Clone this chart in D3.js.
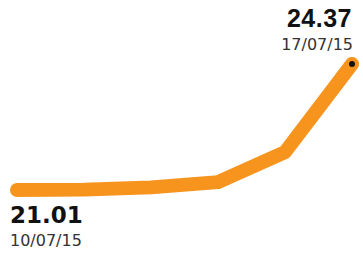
<!DOCTYPE html>
<html>
<head>
<meta charset="utf-8">
<script src="https://cdn.jsdelivr.net/npm/d3@7"></script>
<style>
  html, body { margin: 0; padding: 0; background: #fff; }
  svg { display: block; }
</style>
</head>
<body>
<div id="chart"></div>
<script>
// trading days shown on the sparkline
const dates = ['10/07/15', '13/07/15', '14/07/15', '15/07/15', '16/07/15', '17/07/15'];
const prices = [21.01, 21.02, 21.08, 21.22, 22.02, 24.37];

const width = 363;
const height = 254;

const svg = d3.select('#chart')
  .append('svg')
  .attr('width', width)
  .attr('height', height);

const x = d3.scalePoint()
  .domain(dates)
  .range([17, 352]);

const y = d3.scaleLinear()
  .domain([d3.min(prices), d3.max(prices)])
  .range([190, 64]);

const data = dates.map((d, i) => ({ date: d, value: prices[i] }));

const line = d3.line()
  .x(d => x(d.date))
  .y(d => y(d.value));

svg.append('path')
  .datum(data)
  .attr('d', line)
  .attr('fill', 'none')
  .attr('stroke', '#f7941d')
  .attr('stroke-width', 14)
  .attr('stroke-linecap', 'round')
  .attr('stroke-linejoin', 'round');

const first = data[0];
const last = data[data.length - 1];

// end marker
svg.append('circle')
  .attr('cx', x(last.date))
  .attr('cy', y(last.value))
  .attr('r', 3)
  .attr('fill', '#111');

// first value + date, below the line start
svg.append('text')
  .attr('x', x(first.date) - 7)
  .attr('y', y(first.value) + 33)
  .attr('font-family', 'DejaVu Sans')
  .attr('font-weight', 700)
  .attr('font-size', 23)
  .attr('fill', '#111')
  .text(first.value.toFixed(2));

svg.append('text')
  .attr('x', x(first.date) - 7)
  .attr('y', y(first.value) + 56)
  .attr('font-family', 'DejaVu Sans')
  .attr('font-size', 16)
  .attr('fill', '#333')
  .text(first.date);

// last value + date, above the line end
svg.append('text')
  .attr('x', x(last.date))
  .attr('y', y(last.value) - 37)
  .attr('text-anchor', 'end')
  .attr('font-family', 'Liberation Sans')
  .attr('font-weight', 700)
  .attr('font-size', 25)
  .attr('letter-spacing', 0.5)
  .attr('fill', '#111')
  .text(last.value.toFixed(2));

svg.append('text')
  .attr('x', x(last.date) + 1)
  .attr('y', y(last.value) - 14)
  .attr('text-anchor', 'end')
  .attr('font-family', 'DejaVu Sans')
  .attr('font-size', 16)
  .attr('fill', '#333')
  .text(last.date);
</script>
</body>
</html>
